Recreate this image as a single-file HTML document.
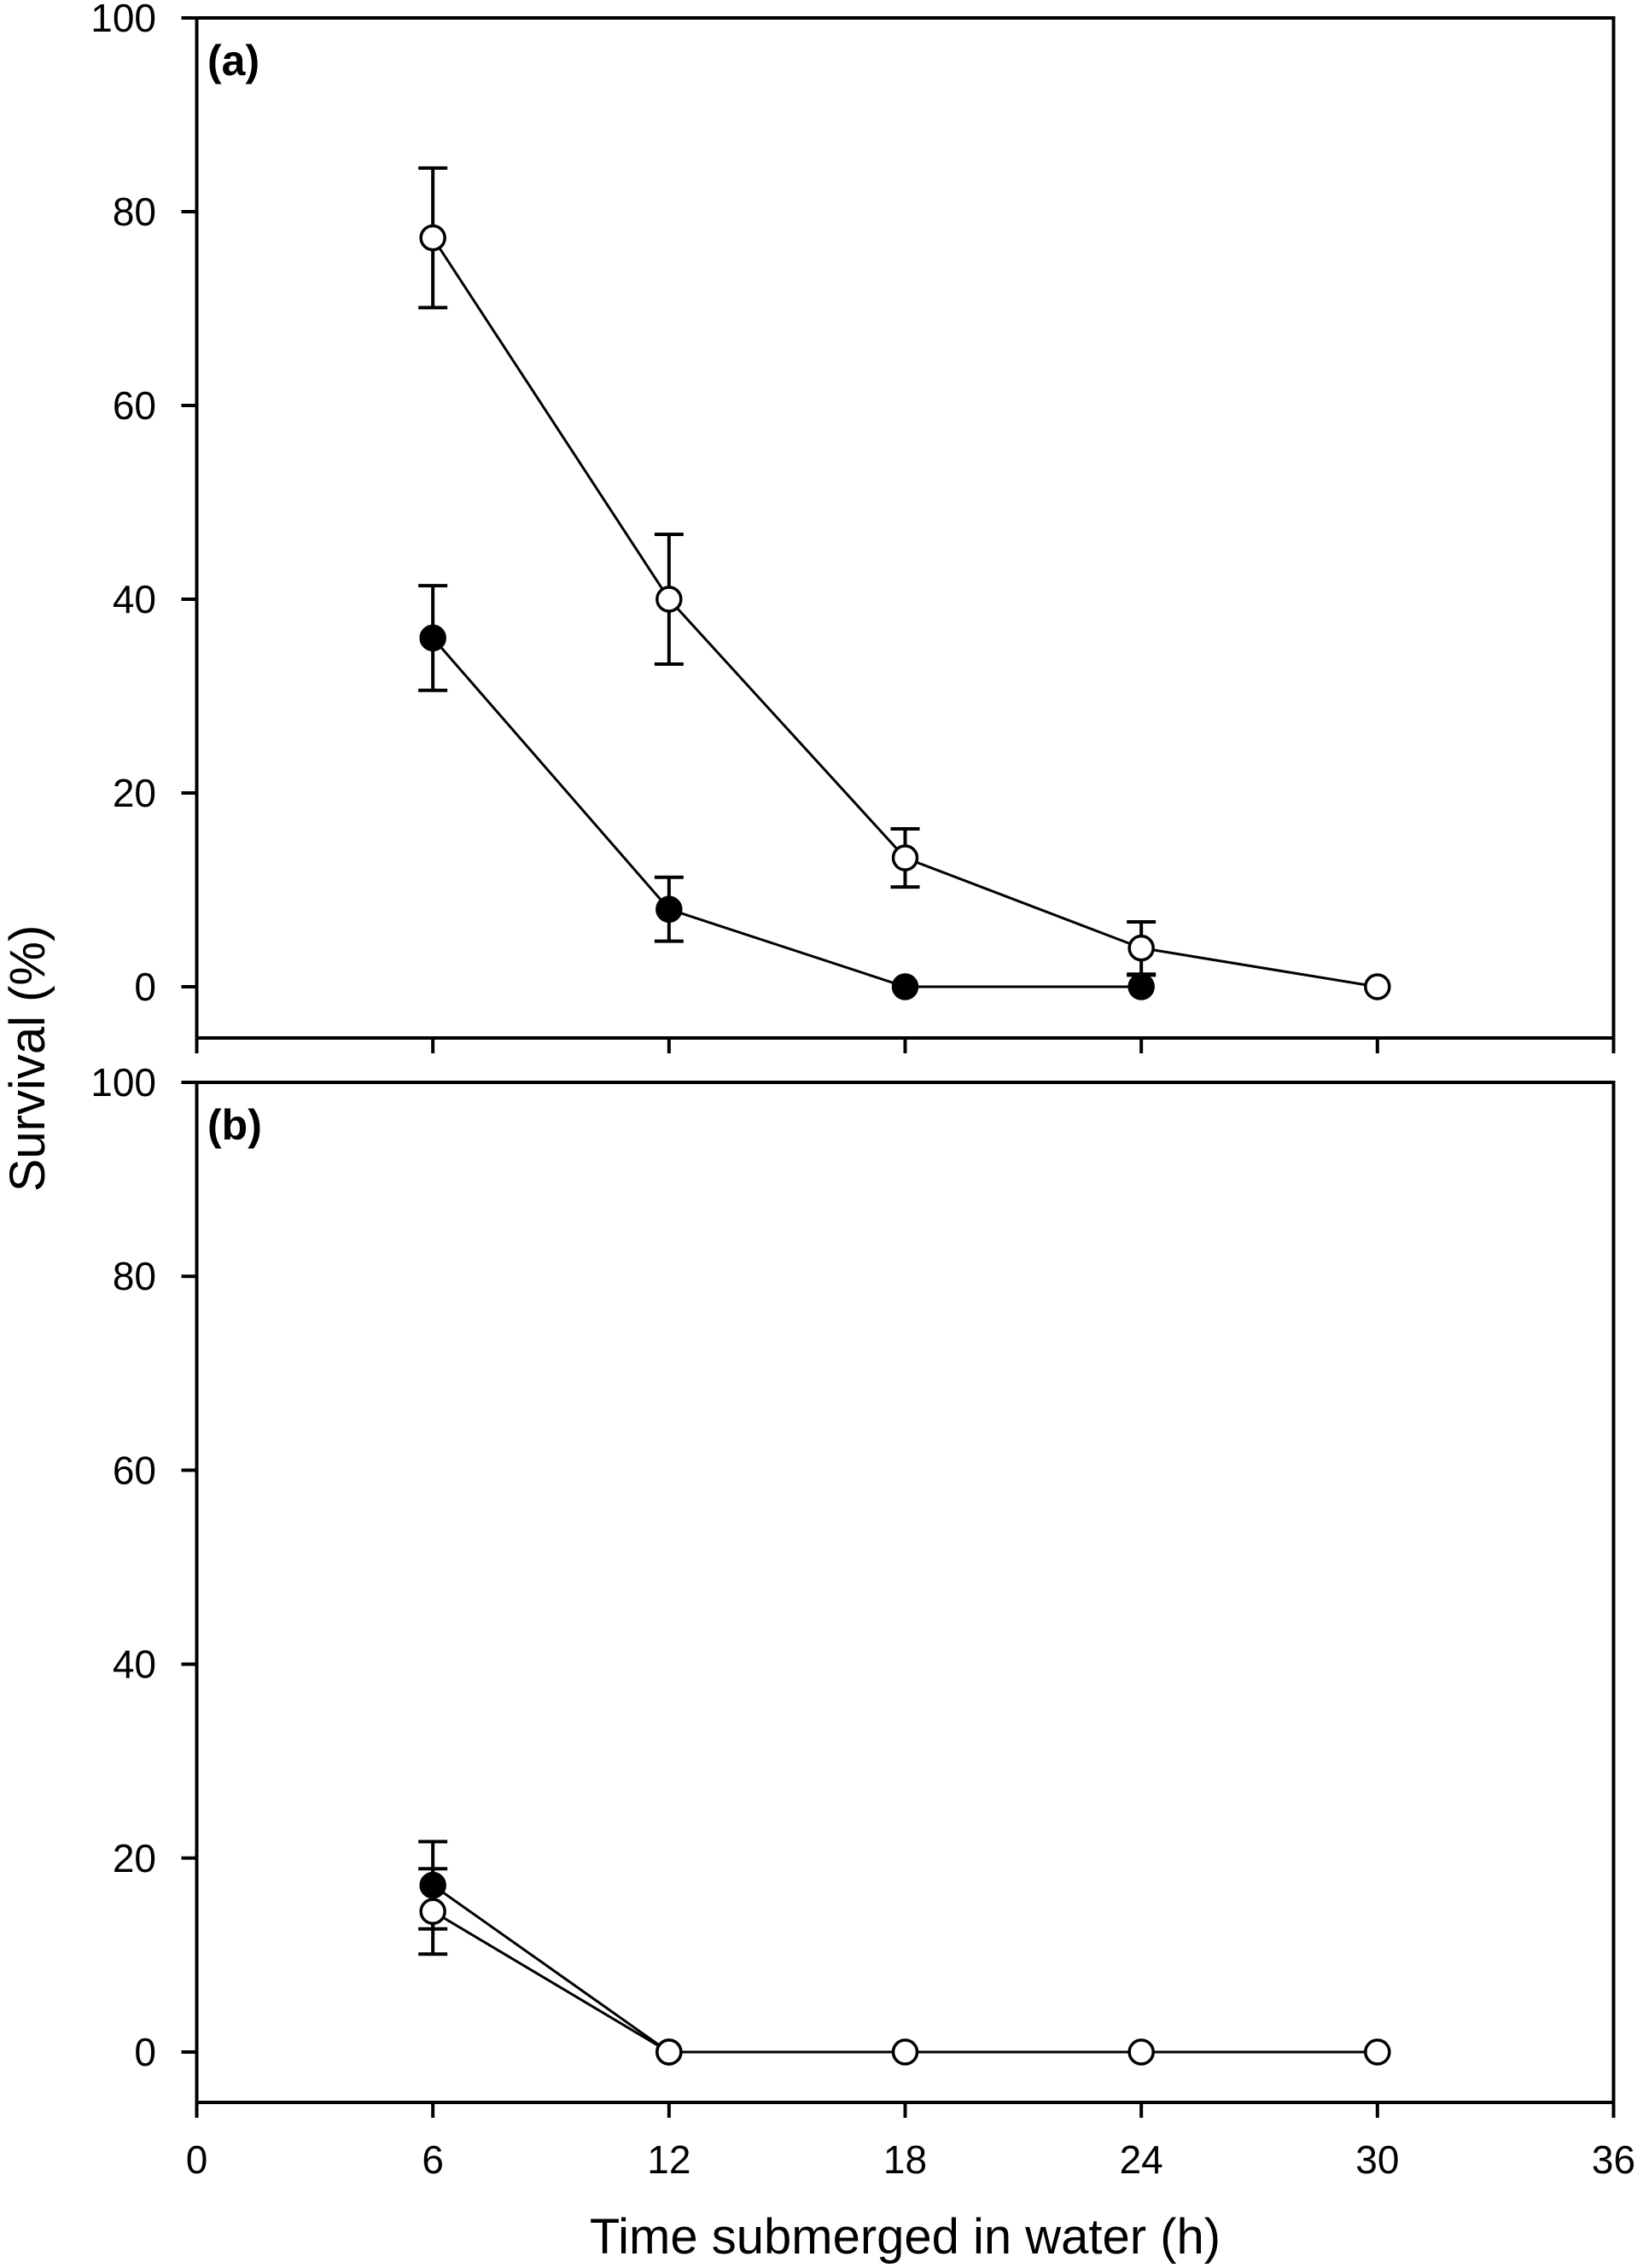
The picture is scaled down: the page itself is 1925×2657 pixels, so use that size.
<!DOCTYPE html>
<html><head><meta charset="utf-8"><style>
html,body{margin:0;padding:0;background:#fff;}
svg{display:block;font-family:"Liberation Sans",Arial,sans-serif;}
</style></head><body>
<svg id="chart" width="1925" height="2657" viewBox="0 0 1925 2657" xmlns="http://www.w3.org/2000/svg">
<rect width="1925" height="2657" fill="#fff"/>
<g id="root"></g>
</svg>
<script>
const hours = [6, 12, 18, 24, 30];
const xTicks = [0, 6, 12, 18, 24, 30, 36];
const yTicks = [0, 20, 40, 60, 80, 100];
const aOpenMean = [77.3, 40, 13.3, 4, 0];
const aOpenErr = [7.2, 6.7, 3, 2.7, 0];
const aFilledMean = [36, 8, 0, 0];
const aFilledErr = [5.4, 3.3, 0, 1.2];
const bOpenMean = [14.5, 0, 0, 0, 0];
const bOpenErr = [4.4, 0, 0, 0, 0];
const bFilledMean = [17.2, 0];
const bFilledErr = [4.5, 0];

const NS = "http://www.w3.org/2000/svg";
const root = document.getElementById('root');
function mk(tag, attrs, parent) {
  const e = document.createElementNS(NS, tag);
  for (const k in attrs) e.setAttribute(k, attrs[k]);
  (parent || root).appendChild(e);
  return e;
}
const X0 = 230.5, X1 = 1890.5;
function xs(t) { return X0 + (t - 0) / 36 * (X1 - X0); }

function panel(name, yTop, y0px, yBottom, label, open, openErr, filled, filledErr) {
  const g = mk('g', {});
  
  
  const unit = (y0px - yTop) / 100;
  const ys = v => y0px - v * unit;
  const frame = mk('rect', {x: X0, y: yTop, width: X1 - X0, height: yBottom - yTop, fill: 'none', stroke: '#000', 'stroke-width': 4}, g);
  
  
  yTicks.forEach(v => {
    const t = mk('line', {x1: X0 - 18, x2: X0, y1: ys(v), y2: ys(v), stroke: '#000', 'stroke-width': 4}, g);
    
    
    const tx = mk('text', {x: 183, y: ys(v) + 16, 'font-size': 46, 'text-anchor': 'end'}, g);
    tx.textContent = v;
    
    
  });
  xTicks.forEach(v => {
    const t = mk('line', {x1: xs(v), x2: xs(v), y1: yBottom, y2: yBottom + 18, stroke: '#000', 'stroke-width': 4}, g);
    
    
  });
  const lb = mk('text', {x: 243, y: 88, 'font-size': 50, 'font-weight': 'bold'}, g);
  lb.setAttribute('y', yTop + 67);
  lb.textContent = label;
  
  

  function series(vals, errs, fill, sname) {
    const sg = mk('g', {}, g);
    
    
    const pts = vals.map((v, i) => xs(hours[i]) + ',' + ys(v)).join(' ');
    const pl = mk('polyline', {points: pts, fill: 'none', stroke: '#000', 'stroke-width': 3}, sg);
    
    
    vals.forEach((v, i) => {
      const e = errs[i];
      const cx = xs(hours[i]);
      if (e > 0) {
        const up = ys(v + e), dn = ys(Math.max(0, v - e));
        const eb = mk('path', {d: `M${cx},${up}V${dn}M${cx - 17},${up}H${cx + 17}` + (v - e > 0 ? `M${cx - 17},${dn}H${cx + 17}` : ''), stroke: '#000', 'stroke-width': 4, fill: 'none'}, sg);
        
        
      }
    });
    vals.forEach((v, i) => {
      const c = mk('circle', {cx: xs(hours[i]), cy: ys(v), r: 14, fill: fill, stroke: '#000', 'stroke-width': 3.5}, sg);
      
      
    });
  }
  series(filled, filledErr, '#000', name + '-filled-series');
  series(open, openErr, '#fff', name + '-open-series');
}
panel('panel-a', 21, 1156, 1216, '(a)', aOpenMean, aOpenErr, aFilledMean, aFilledErr);
panel('panel-b', 1268, 2404, 2463, '(b)', bOpenMean, bOpenErr, bFilledMean, bFilledErr);

xTicks.forEach(v => {
  const tx = mk('text', {x: xs(v), y: 2546, 'font-size': 46, 'text-anchor': 'middle'});
  tx.textContent = v;
  
  
});
const xt = mk('text', {x: xs(18), y: 2640, 'font-size': 58, 'text-anchor': 'middle'});
xt.textContent = 'Time submerged in water (h)';


const yt = mk('text', {x: 0, y: 0, 'font-size': 58, 'text-anchor': 'middle', transform: 'translate(52,1240) rotate(-90)'});
yt.textContent = 'Survival (%)';


</script>
</body></html>
